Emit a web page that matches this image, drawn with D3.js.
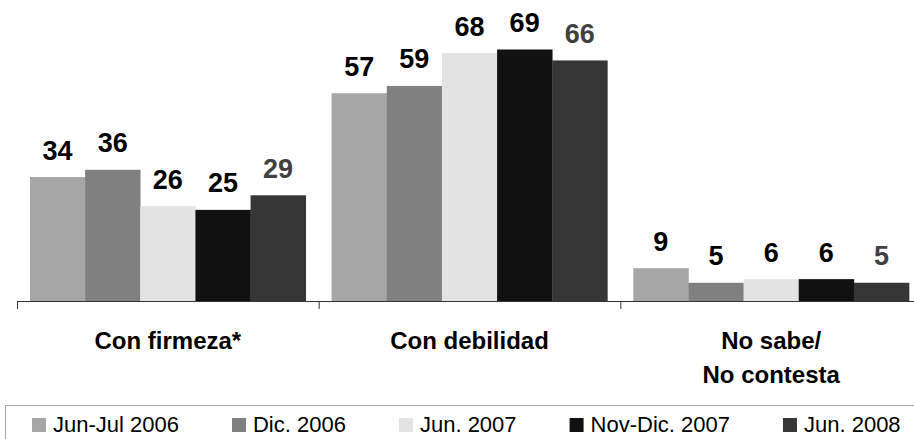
<!DOCTYPE html>
<html>
<head>
<meta charset="utf-8">
<script src="https://cdn.jsdelivr.net/npm/d3@7.9.0/dist/d3.min.js"></script>
<style>
  html, body { margin: 0; padding: 0; background: #fff; }
  svg { display: block; font-family: "Liberation Sans", Arial, sans-serif; }
</style>
</head>
<body>
<svg width="914" height="439"></svg>
<script>
// Chart data
const categories = ['Con firmeza*', 'Con debilidad', 'No sabe/\nNo contesta'];
const seriesNames = ['Jun-Jul 2006', 'Dic. 2006', 'Jun. 2007', 'Nov-Dic. 2007', 'Jun. 2008'];
const seriesColors = ['#a6a6a6', '#808080', '#e3e3e3', '#111111', '#363636'];
const labelColors = ['#000', '#000', '#000', '#000', '#404040'];
const values = [
  [34, 57, 9],   // Jun-Jul 2006
  [36, 59, 5],   // Dic. 2006
  [26, 68, 6],   // Jun. 2007
  [25, 69, 6],   // Nov-Dic. 2007
  [29, 66, 5]    // Jun. 2008
];

const svg = d3.select('svg');
const baseY = 301;

const x0 = d3.scaleBand().domain(categories).range([17, 922]).padding(0);
const x1 = d3.scaleBand().domain(seriesNames)
  .range([0, x0.bandwidth()]).paddingInner(0).paddingOuter(0.235);
const y = d3.scaleLinear().domain([0, 80]).range([baseY, baseY - 80 * 3.645]);

// Bars and value labels
const groups = svg.append('g').selectAll('g')
  .data(categories)
  .join('g')
  .attr('transform', d => `translate(${x0(d)},0)`);

groups.selectAll('rect')
  .data((c, ci) => seriesNames.map((s, si) => ({ s, si, v: values[si][ci] })))
  .join('rect')
  .attr('x', d => x1(d.s))
  .attr('y', d => y(d.v))
  .attr('width', x1.bandwidth() + 0.3)
  .attr('height', d => baseY - y(d.v))
  .attr('fill', d => seriesColors[d.si]);

groups.selectAll('text')
  .data((c, ci) => seriesNames.map((s, si) => ({ s, si, v: values[si][ci] })))
  .join('text')
  .attr('x', d => x1(d.s) + x1.bandwidth() / 2)
  .attr('y', d => y(d.v) - 17.5)
  .attr('text-anchor', 'middle')
  .attr('font-size', 27)
  .attr('font-weight', 'bold')
  .attr('fill', d => labelColors[d.si])
  .text(d => d.v);

// Axis with ticks at category boundaries
const xb = d3.scaleLinear().domain([0, categories.length]).range(x0.range());
const axis = svg.append('g')
  .attr('transform', `translate(0,${baseY})`)
  .call(d3.axisBottom(xb).tickValues(d3.range(categories.length + 1)).tickSize(8).tickSizeOuter(0).tickFormat(''));
axis.select('.domain').attr('stroke', '#333');
axis.selectAll('.tick line').attr('stroke', '#333');

// Category labels
svg.append('g').selectAll('text')
  .data(categories)
  .join('text')
  .attr('x', d => x0(d) + x0.bandwidth() / 2)
  .attr('y', 349)
  .attr('text-anchor', 'middle')
  .attr('font-size', 24)
  .attr('font-weight', 'bold')
  .attr('fill', '#000')
  .selectAll('tspan')
  .data(d => d.split('\n'))
  .join('tspan')
  .attr('x', function () { return d3.select(this.parentNode).attr('x'); })
  .attr('dy', (d, i) => i === 0 ? 0 : 34)
  .text(d => d);

// Legend
svg.append('rect')
  .attr('x', 5.5).attr('y', 405.5)
  .attr('width', 914).attr('height', 40)
  .attr('fill', 'none').attr('stroke', '#a6a6a6');

const legend = svg.append('g');
let lx = 32;
seriesNames.forEach((name, i) => {
  const item = legend.append('g').attr('transform', `translate(${lx},0)`);
  item.append('rect')
    .attr('x', 0).attr('y', 418)
    .attr('width', 14).attr('height', 14)
    .attr('fill', seriesColors[i]);
  const t = item.append('text')
    .attr('x', 21).attr('y', 432)
    .attr('font-size', 22)
    .attr('fill', '#000')
    .text(name);
  lx += 21 + t.node().getComputedTextLength() + 53;
});
</script>
</body>
</html>
